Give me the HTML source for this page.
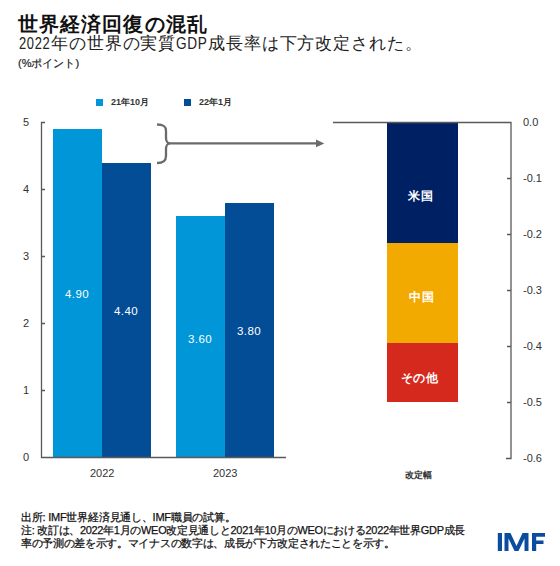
<!DOCTYPE html>
<html><head><meta charset="utf-8">
<style>
html,body{margin:0;padding:0;background:#fff;}
body{width:560px;height:566px;position:relative;overflow:hidden;font-family:"Liberation Sans",sans-serif;color:#222;}
.a{position:absolute;white-space:nowrap;line-height:1;}
.ft{-webkit-text-stroke:0.25px #111;color:#111 !important;}
.dl{letter-spacing:0.8px;}
</style></head><body>
<div class="a" id="title" style="left:18px;top:14px;font-size:20px;letter-spacing:1.1px;font-weight:bold;color:#111;">世界経済回復の混乱</div>
<div class="a" id="sub" style="left:19px;top:35px;font-size:17px;letter-spacing:0.85px;color:#222;"><span id="s1" style="display:inline-block;transform:scaleX(.76);transform-origin:0 0;margin-right:-9px">2022</span>年の世界の実質<span id="s2" style="display:inline-block;transform:scaleX(.8);transform-origin:0 0;margin-right:-7.4px">GDP</span>成長率は下方改定された。</div>
<div class="a" id="unit" style="left:18px;top:58px;font-size:11px;color:#222;-webkit-text-stroke:0.2px #222;">(%ポイント)</div>

<div class="a" style="left:96px;top:99px;width:7px;height:7px;background:#0096D8;"></div>
<div class="a" id="lg1" style="left:111px;top:98px;font-size:9px;font-weight:bold;color:#333;">21年10月</div>
<div class="a" style="left:184px;top:99px;width:7px;height:7px;background:#034D96;"></div>
<div class="a" id="lg2" style="left:199px;top:98px;font-size:9px;font-weight:bold;color:#333;">22年1月</div>

<!-- left bars -->
<div class="a" style="left:53px;top:129px;width:49px;height:328px;background:#0096D8;"></div>
<div class="a" style="left:102px;top:163px;width:49px;height:294px;background:#034D96;"></div>
<div class="a" style="left:176px;top:216px;width:49px;height:241px;background:#0096D8;"></div>
<div class="a" style="left:225px;top:203px;width:49px;height:254px;background:#034D96;"></div>

<!-- right bar -->
<div class="a" style="left:387px;top:122px;width:71px;height:121px;background:#002064;"></div>
<div class="a" style="left:387px;top:243px;width:71px;height:100px;background:#F3AA00;"></div>
<div class="a" style="left:387px;top:343px;width:71px;height:59px;background:#D6291D;"></div>

<svg class="a" style="left:0;top:0" width="560" height="566" viewBox="0 0 560 566">
  <g stroke="#595959" stroke-width="1.3" fill="none">
    <path d="M45 122.5H41.5V457.5H286"/>
    <path d="M41.5 189.5H45M41.5 256.5H45M41.5 323.5H45M41.5 390.5H45"/>
    <path d="M333 122.5H511V458.5H506"/>
    <path d="M511 178.5H507M511 234.5H507M511 290.5H507M511 346.5H507M511 402.5H507"/>
  </g>
  <g stroke="#6B6B6B" stroke-width="2.3" fill="none">
    <path d="M157 124.5C163 124.5 166 126 166 131V138C166 141 167.5 143.4 170 143.4C167.5 143.4 166 146 166 149V156C166 161 163 163 157 163"/>
    <path d="M169 143.4H317"/>
  </g>
  <path d="M316 139.6L324.3 143.4L316 147.2Z" fill="#6B6B6B"/>
</svg>

<!-- y labels left -->
<div class="a yl" style="left:23px;top:117px;font-size:11px;color:#333;">5</div>
<div class="a yl" style="left:23px;top:184px;font-size:11px;color:#333;">4</div>
<div class="a yl" style="left:23px;top:251px;font-size:11px;color:#333;">3</div>
<div class="a yl" style="left:23px;top:318px;font-size:11px;color:#333;">2</div>
<div class="a yl" style="left:23px;top:385px;font-size:11px;color:#333;">1</div>
<div class="a yl" style="left:23px;top:452px;font-size:11px;color:#333;">0</div>

<div class="a" style="left:65px;top:289px;font-size:11.5px;letter-spacing:0.4px;color:#fff;">4.90</div>
<div class="a" style="left:114px;top:306px;font-size:11.5px;letter-spacing:0.4px;color:#fff;">4.40</div>
<div class="a" style="left:188px;top:334px;font-size:11.5px;letter-spacing:0.4px;color:#fff;">3.60</div>
<div class="a" style="left:237px;top:326px;font-size:11.5px;letter-spacing:0.4px;color:#fff;">3.80</div>

<div class="a" style="left:90px;top:468px;font-size:11px;color:#333;">2022</div>
<div class="a" style="left:213px;top:468px;font-size:11px;color:#333;">2023</div>

<!-- right labels -->
<div class="a" style="left:523px;top:117px;font-size:11px;color:#333;">0.0</div>
<div class="a" style="left:523px;top:173px;font-size:11px;color:#333;">-0.1</div>
<div class="a" style="left:523px;top:229px;font-size:11px;color:#333;">-0.2</div>
<div class="a" style="left:523px;top:285px;font-size:11px;color:#333;">-0.3</div>
<div class="a" style="left:523px;top:341px;font-size:11px;color:#333;">-0.4</div>
<div class="a" style="left:523px;top:397px;font-size:11px;color:#333;">-0.5</div>
<div class="a" style="left:523px;top:453px;font-size:11px;color:#333;">-0.6</div>

<div class="a" style="left:408px;top:190px;font-size:12px;letter-spacing:0.5px;font-weight:bold;color:#fff;">米国</div>
<div class="a" style="left:409px;top:291px;font-size:12px;letter-spacing:0.5px;font-weight:bold;color:#fff;">中国</div>
<div class="a" style="left:401px;top:372px;font-size:12px;letter-spacing:0.3px;font-weight:bold;color:#fff;">その他</div>
<div class="a" style="left:405px;top:471px;font-size:9px;font-weight:bold;color:#333;">改定幅</div>

<div class="a ft" style="left:21px;top:512px;font-size:11px;letter-spacing:-0.23px;color:#222;">出所: IMF世界経済見通し、IMF職員の試算。</div>
<div class="a ft" style="left:21px;top:525px;font-size:11px;letter-spacing:-0.31px;color:#222;">注: 改訂は、2022年1月のWEO改定見通しと2021年10月のWEOにおける2022年世界GDP成長</div>
<div class="a ft" style="left:21px;top:538px;font-size:11px;letter-spacing:-0.32px;color:#222;">率の予測の差を示す。マイナスの数字は、成長が下方改定されたことを示す。</div>

<svg class="a" style="left:0;top:0" width="560" height="566" viewBox="0 0 560 566"><g fill="#0A4D9E">
<rect x="497.8" y="533" width="4.2" height="18"/>
<path d="M504.5 551V533H510.5L516.5 546L522.5 533H528.5V551H524.5V538.5L518.5 551H514.5L508.5 538.5V551Z"/>
<path d="M532 551V533H545V536.8H536.2V540.5H543.5V544H536.2V551Z"/>
</g></svg>
</body></html>
